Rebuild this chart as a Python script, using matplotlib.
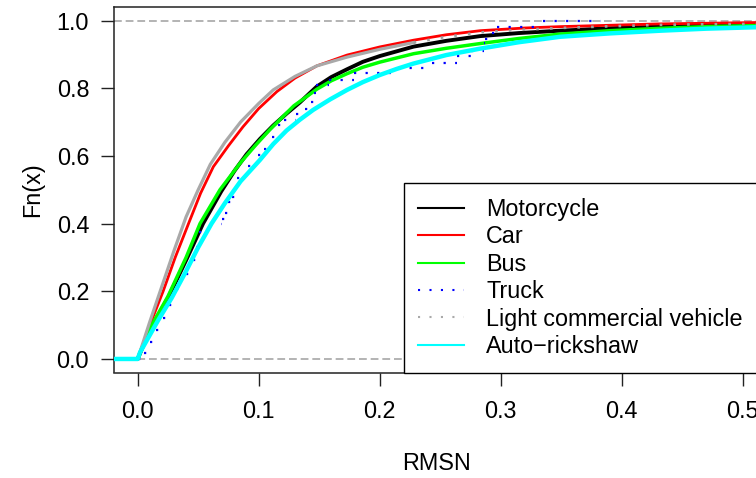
import matplotlib
matplotlib.use("Agg")
import matplotlib.pyplot as plt
import numpy as np
from matplotlib.lines import Line2D

plt.rcParams['font.family'] = ['Liberation Sans', 'DejaVu Sans']
plt.rcParams['font.size'] = 16.8

# ECDF curves (RMSN, Fn(x))
moto_x = [0.000, 0.010, 0.025, 0.040, 0.054, 0.069, 0.080, 0.090, 0.101, 0.112, 0.123, 0.134, 0.148, 0.160,
          0.173, 0.186, 0.200, 0.228, 0.255, 0.283, 0.315, 0.349, 0.390, 0.432, 0.470, 0.509, 0.530]
moto_F = [0.000, 0.086, 0.180, 0.292, 0.400, 0.495, 0.556, 0.605, 0.650, 0.690, 0.725, 0.758, 0.805, 0.833,
          0.856, 0.878, 0.895, 0.923, 0.940, 0.954, 0.963, 0.970, 0.977, 0.982, 0.985, 0.987, 0.988]

car_x = [0.000, 0.010, 0.021, 0.031, 0.042, 0.052, 0.0625, 0.075, 0.087, 0.100, 0.115, 0.130, 0.148, 0.173,
         0.200, 0.228, 0.255, 0.283, 0.320, 0.349, 0.390, 0.430, 0.470, 0.509, 0.530]
car_F = [0.000, 0.100, 0.200, 0.300, 0.400, 0.490, 0.568, 0.630, 0.686, 0.740, 0.790, 0.830, 0.866, 0.898,
         0.922, 0.942, 0.958, 0.970, 0.978, 0.982, 0.986, 0.990, 0.992, 0.994, 0.995]

bus_x = [0.000, 0.010, 0.025, 0.040, 0.0515, 0.068, 0.0845, 0.097, 0.109, 0.129, 0.148, 0.160, 0.173, 0.186,
         0.200, 0.228, 0.255, 0.283, 0.315, 0.349, 0.390, 0.432, 0.470, 0.509, 0.530]
bus_F = [0.000, 0.090, 0.185, 0.300, 0.400, 0.500, 0.578, 0.630, 0.677, 0.748, 0.797, 0.822, 0.843, 0.862,
         0.877, 0.902, 0.918, 0.932, 0.947, 0.960, 0.970, 0.977, 0.982, 0.985, 0.986]

# truck is a coarse step function: jump locations and levels after each jump
truck_x = [0.000, 0.005, 0.010, 0.015, 0.021, 0.026, 0.032, 0.040, 0.046, 0.048, 0.051, 0.060, 0.070, 0.072,
           0.075, 0.078, 0.082, 0.091, 0.099, 0.104, 0.111, 0.116, 0.121, 0.131, 0.138, 0.143, 0.146, 0.147,
           0.158, 0.179, 0.215, 0.243, 0.264, 0.275, 0.286, 0.287, 0.293, 0.297, 0.335]
truck_F = [0.000, 0.017, 0.051, 0.085, 0.120, 0.160, 0.206, 0.250, 0.292, 0.330, 0.376, 0.400, 0.413, 0.430,
           0.465, 0.480, 0.534, 0.570, 0.603, 0.619, 0.655, 0.690, 0.706, 0.724, 0.740, 0.758, 0.785, 0.809,
           0.824, 0.844, 0.861, 0.876, 0.895, 0.911, 0.933, 0.946, 0.964, 0.982, 1.000]
truck_end = 0.383

lcv_x = [0.000, 0.010, 0.020, 0.030, 0.040, 0.050, 0.060, 0.072, 0.085, 0.100, 0.112, 0.130, 0.148, 0.173,
         0.200, 0.228, 0.255, 0.283, 0.320, 0.349, 0.390, 0.430, 0.470, 0.509, 0.530]
lcv_F = [0.000, 0.110, 0.215, 0.320, 0.420, 0.500, 0.575, 0.640, 0.700, 0.755, 0.795, 0.835, 0.866, 0.892,
         0.915, 0.935, 0.952, 0.965, 0.973, 0.978, 0.983, 0.987, 0.989, 0.990, 0.990]

auto_x = [0.000, 0.002, 0.017, 0.028, 0.039, 0.050, 0.061, 0.072, 0.085, 0.101, 0.112, 0.123, 0.134, 0.145,
          0.159, 0.173, 0.186, 0.200, 0.214, 0.228, 0.255, 0.283, 0.315, 0.349, 0.390, 0.432, 0.470, 0.509, 0.530]
auto_F = [0.000, 0.020, 0.115, 0.180, 0.253, 0.330, 0.400, 0.460, 0.525, 0.588, 0.635, 0.675, 0.707, 0.736,
          0.767, 0.795, 0.818, 0.839, 0.857, 0.873, 0.898, 0.917, 0.936, 0.952, 0.962, 0.970, 0.976, 0.980, 0.981]

x_ticks = [0.0, 0.1, 0.2, 0.3, 0.4, 0.5]
y_ticks = [0.0, 0.2, 0.4, 0.6, 0.8, 1.0]

fig = plt.figure(figsize=(7.56, 4.78), dpi=100)
# axes runs past the right edge like in the original
ax = fig.add_axes([113.5 / 756, (478 - 372.5) / 478, (767 - 113.5) / 756, (372.5 - 7) / 478])

ax.axhline(0, color='#b3b3b3', lw=1.4, dashes=(4, 2), zorder=1)
ax.axhline(1, color='#b3b3b3', lw=1.4, dashes=(4, 2), zorder=1)

def ext(xs, fs):
    # ecdf is 0 left of the first jump
    return np.r_[-0.03, xs], np.r_[0.0, fs]

ax.plot(*ext(moto_x, moto_F), color='black', lw=2.8, zorder=2)
ax.plot(*ext(car_x, car_F), color='#ff0000', lw=2.0, zorder=3)
ax.plot(*ext(bus_x, bus_F), color='#00ff00', lw=2.5, zorder=4)

ends = truck_x[1:] + [truck_end]
ax.hlines(np.r_[0.0, truck_F], np.r_[-0.03, truck_x], np.r_[truck_x[0], ends],
          colors='#0000ff', lw=1.6, linestyles=[(0, (1, 4.2))], zorder=5)

lx, lf = ext(lcv_x, lcv_F)
ax.plot(lx[lx <= 0.25], lf[lx <= 0.25], color='#a9a9a9', lw=2.3, zorder=6)
ax.plot(lx[lx >= 0.228], lf[lx >= 0.228], color='#a0a0a0', lw=1.9, linestyle=(0, (1, 4.2)), zorder=6)

ax.plot(*ext(auto_x, auto_F), color='#00ffff', lw=3.2, zorder=7)

ax.set_xlim(-0.02, 0.52)
ax.set_ylim(-0.04, 1.04)
ax.set_xticks(x_ticks)
ax.set_xticklabels([f'{v:.1f}' for v in x_ticks])
ax.set_yticks(y_ticks)
ax.set_yticklabels([f'{v:.1f}' for v in y_ticks])
ax.tick_params(axis='both', length=9.5, width=1.0, color='#222222', labelsize=16.8)
ax.tick_params(axis='x', pad=10.0)
ax.tick_params(axis='y', pad=8.0)
for s in ax.spines.values():
    s.set_linewidth(1.1)
    s.set_color('#222222')

fig.text(33 / 756, 1 - 190 / 478, 'Fn(x)', rotation=90, ha='center', va='center', fontsize=16.8)
fig.text(437 / 756, 1 - 463 / 478, 'RMSN', ha='center', va='center', fontsize=16.8)

handles = [
    Line2D([], [], color='black', lw=1.5),
    Line2D([], [], color='#ff0000', lw=1.5),
    Line2D([], [], color='#00ff00', lw=1.5),
    Line2D([], [], color='#0000ff', lw=1.5, linestyle=(0, (1, 4.5))),
    Line2D([], [], color='#a9a9a9', lw=1.5, linestyle=(0, (1, 4.5))),
    Line2D([], [], color='#00ffff', lw=1.5),
]
labels = ['Motorcycle', 'Car', 'Bus', 'Truck', 'Light commercial vehicle', 'Auto\u2212rickshaw']
x0 = (404 - 113.5) / 653.5
leg = ax.legend(handles, labels, loc='lower left', bbox_to_anchor=(x0, 0.0, 1 - x0, 0.5), mode='expand',
                borderaxespad=0, borderpad=0.62, handlelength=1.97, handletextpad=0.93, labelspacing=0.19,
                fancybox=False, framealpha=1, edgecolor='black', fontsize=16.8)
leg.get_frame().set_linewidth(1.0)
leg.set_zorder(10)

fig.savefig('out.png', dpi=100)
